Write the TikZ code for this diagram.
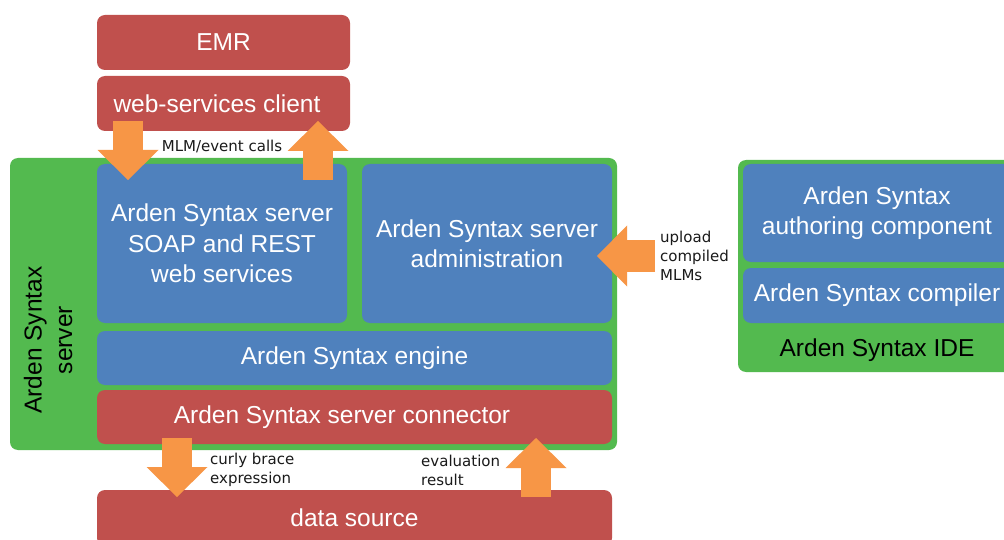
\documentclass[tikz,border=0pt]{standalone}
\usepackage{fontspec}
\setmainfont{Liberation Sans}
\newfontfamily\labfont{DejaVu Sans}
\usetikzlibrary{arrows.meta}
\definecolor{redC}{HTML}{C0504D}
\definecolor{blueC}{HTML}{4F81BD}
\definecolor{greenC}{HTML}{53BA4F}
\definecolor{orangeC}{HTML}{F79646}
\definecolor{labC}{HTML}{1A1A1A}
\tikzset{
  box/.style={rounded corners=8pt, inner sep=0pt, text=white, align=center,
    font=\fontsize{24.5}{30.5}\selectfont},
  redbox/.style={box, fill=redC},
  bluebox/.style={box, fill=blueC},
  greenbox/.style={box, fill=greenC},
  lab/.style={inner sep=0pt, text=labC, align=left,
    font=\labfont\fontsize{15}{19}\selectfont},
  barrow/.style={draw=orangeC, line width=30pt,
    -{Triangle[width=61pt,length=30pt,line width=0pt,fill=orangeC]}},
}
\begin{document}
\begin{tikzpicture}[x=1pt,y=-1pt]
\clip (0,0) rectangle (1004,540);
\fill[white] (0,0) rectangle (1004,540);
% top
\node[redbox, minimum width=253, minimum height=55] (emr) at (223.5,42.5) {EMR};
\node[redbox, minimum width=253, minimum height=55] (wsc) at (223.5,103.5) {\hspace*{-13pt}web-services client};
% server
\node[greenbox, minimum width=607, minimum height=292] (server) at (313.5,304) {};
\node[bluebox, minimum width=250, minimum height=159] (soap) at (222,243.5)
  {Arden Syntax server\\SOAP and REST\\web services};
\node[bluebox, minimum width=250, minimum height=159] (admin) at (487,243.5)
  {Arden Syntax server\\administration};
\node[bluebox, minimum width=515, minimum height=54] (engine) at (354.5,358) {Arden Syntax engine};
\node[redbox, minimum width=515, minimum height=54] (conn) at (354.5,417) {\hspace*{-25pt}Arden Syntax server connector};
\node[box, text=black, rotate=90] (serverlab) at (48,340) {Arden Syntax\\server};
% data source
\node[redbox, minimum width=515, minimum height=56] (ds) at (354.5,518) {data source};
% IDE
\node[greenbox, minimum width=278, minimum height=212] (ide) at (877,266) {};
\node[bluebox, minimum width=268, minimum height=98] (auth) at (877,213)
  {Arden Syntax\\authoring component};
\node[bluebox, minimum width=268, minimum height=55] (comp) at (877,295.5) {Arden Syntax compiler};
\node[box, text=black] (idelab) at (877,350) {Arden Syntax IDE};
% arrows
\coordinate (a1s) at (128,121); \coordinate (a1e) at (128,180);
\coordinate (a2s) at (318,180); \coordinate (a2e) at (318,121);
\coordinate (a3s) at (655,256); \coordinate (a3e) at (597,256);
\coordinate (a4s) at (177,438); \coordinate (a4e) at (177,497);
\coordinate (a5s) at (536,497); \coordinate (a5e) at (536,438);
\draw[barrow] (a1s) -- (a1e);
\draw[barrow] (a2s) -- (a2e);
\draw[barrow, line width=32pt] (a3s) -- (a3e);
\draw[barrow] (a4s) -- (a4e);
\draw[barrow] (a5s) -- (a5e);
% labels
\node[lab] (l1) at (222,146) {MLM/event calls};
\node[lab, anchor=west] (l2) at (660,256) {upload\\compiled\\MLMs};
\node[lab, anchor=west] (l3) at (210,470) {curly brace\\expression};
\node[lab, anchor=west] (l4) at (421,470) {evaluation\\result};
\end{tikzpicture}
\end{document}
